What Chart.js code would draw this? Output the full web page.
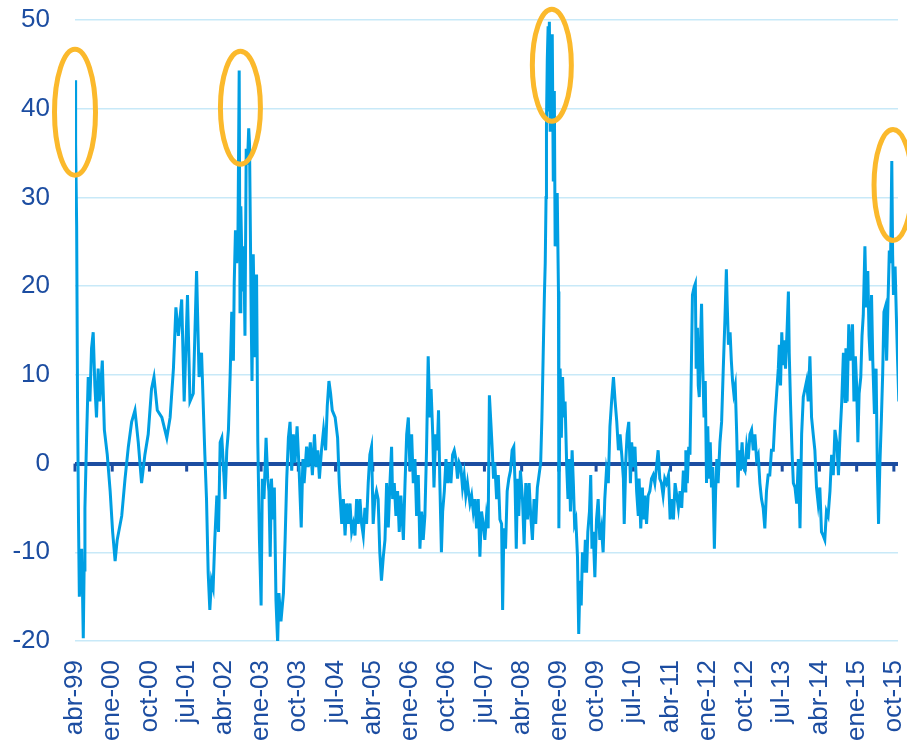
<!DOCTYPE html>
<html>
<head>
<meta charset="utf-8">
<script src="https://cdn.jsdelivr.net/npm/chart.js@4.4.1/dist/chart.umd.min.js"></script>
<style>
  body { margin: 0; background: #fff; }
</style>
</head>
<body>
<canvas id="chart" width="907" height="745"></canvas>
<script>
// x = months since abr-99, y = value
var tickLabels = ['abr-99', 'ene-00', 'oct-00', 'jul-01', 'abr-02', 'ene-03', 'oct-03', 'jul-04',
    'abr-05', 'ene-06', 'oct-06', 'jul-07', 'abr-08', 'ene-09', 'oct-09', 'jul-10', 'abr-11',
    'ene-12', 'oct-12', 'jul-13', 'abr-14', 'ene-15', 'oct-15'];

var months = [
    0, 0.1, 0.2, 0.4, 0.6, 0.85, 1.05, 1.3, 1.6, 1.8, 2.0, 2.2, 2.4, 2.8, 3.2, 3.6, 4.0, 4.4, 4.8, 5.2,
    5.6, 6.0, 6.6, 7.1, 7.8, 8.5, 9.1, 9.7, 10.2, 11.3, 12.1, 12.9, 13.7, 14.5, 15.3, 16.1, 16.9, 17.7,
    18.5, 19.1, 19.9, 21.0, 22.2, 23.0, 23.8, 24.4, 25.0, 25.8, 26.4, 27.2, 27.8, 28.6, 29.4, 30.0, 30.6,
    31.4, 31.8, 32.2, 32.6, 33.0, 33.4, 33.8, 34.3, 34.7, 35.1, 35.5, 35.9, 36.3, 36.7, 37.1, 37.5, 37.9,
    38.3, 38.5, 38.8, 39.1, 39.4, 39.7, 39.9, 40.1, 40.5, 40.8, 41.1, 41.4, 41.7, 42.0, 42.2, 42.6, 42.8,
    43.1, 43.5, 43.9, 44.2, 44.6, 45.0, 45.3, 45.7, 46.2, 46.6, 46.9, 47.2, 47.5, 47.9, 48.2, 48.6, 49.0,
    49.3, 49.8, 50.4, 50.8, 51.2, 51.6, 52.0, 52.4, 52.8, 53.2, 53.7, 54.2, 54.7, 55.1, 55.4, 56.0, 56.4,
    56.9, 57.4, 57.9, 58.3, 58.7, 59.1, 59.6, 60.1, 60.6, 61.0, 61.4, 61.8, 62.2, 62.9, 63.5, 63.9, 64.5,
    64.9, 65.3, 65.7, 66.1, 66.5, 66.9, 67.3, 67.7, 68.1, 68.5, 68.9, 69.3, 69.7, 70.1, 70.5, 70.9, 71.3,
    71.7, 72.1, 72.5, 72.9, 73.3, 73.7, 74.1, 74.55, 74.95, 75.35, 75.75, 76.15, 76.55, 76.8, 77.2, 77.6,
    78.0, 78.4, 78.8, 79.4, 79.8, 80.2, 80.6, 81.0, 81.4, 81.8, 82.2, 82.6, 83.0, 83.4, 83.8, 84.2, 84.6,
    85.0, 85.4, 85.8, 86.1, 86.5, 86.8, 87.2, 87.6, 87.9, 88.2, 88.6, 88.9, 89.3, 89.7, 90.1, 90.5, 90.9,
    91.3, 91.7, 92.1, 92.5, 92.9, 93.3, 93.7, 94.1, 94.5, 94.9, 95.5, 95.9, 96.3, 96.7,
    97.1, 97.5, 97.9, 98.3, 98.7, 99.1, 99.5, 99.9, 100.2, 100.6, 100.9, 101.2, 101.5, 101.95, 102.35,
    102.75, 103.15, 103.4, 103.7, 104.1, 104.5, 104.9, 105.3, 105.7, 106.1, 106.4, 106.7, 107.0, 107.3,
    107.7, 108.2, 108.6, 109.0, 109.4, 109.8, 110.2, 110.6, 111.0, 111.4, 111.8, 112.2, 112.6, 112.9,
    113.2, 113.5, 113.7, 113.9, 114.0, 114.2, 114.4, 114.5, 114.7, 114.9, 115.2, 115.4, 115.65, 115.9,
    116.1, 116.4, 116.6, 116.9, 117.0, 117.3, 117.6, 117.9, 118.2, 118.5, 118.9, 119.2, 119.5, 119.8,
    120.2, 120.5, 120.8, 121.1, 121.5, 121.8, 122.1, 122.4, 122.7, 123.1, 123.4, 123.7, 124.0, 124.4,
    124.7, 125.0, 125.3, 125.7, 126.1, 126.5, 126.9, 127.3, 127.7, 128.1, 128.5, 128.95, 129.35, 129.75,
    130.2, 130.6,
    131.0, 131.4, 131.8, 132.2, 132.6, 132.8, 133.2, 133.5, 133.9, 134.3, 134.6, 135.0, 135.4, 135.8,
    136.2, 136.4, 136.8, 137.2, 137.4, 137.8, 138.2, 138.6, 139.0, 139.4, 139.8, 140.2, 140.6, 141.0,
    141.4, 141.8, 142.2, 142.6, 143.0, 143.5, 143.9, 144.3, 144.7, 145.1, 145.5, 145.9, 146.3, 146.7,
    147.1, 147.5, 147.7, 148.05, 148.4, 148.7, 149.0, 149.3, 149.7, 150.0, 150.2, 150.5, 150.7, 150.95,
    151.2, 151.5, 151.75, 152.1, 152.4, 152.7, 153.0, 153.3, 153.6, 153.9, 154.2, 154.6, 154.9, 155.2,
    155.5, 155.95, 156.35, 156.75, 157.15, 157.5, 157.7, 158.0, 158.4, 158.7, 159.0, 159.3, 159.65,
    160.0, 160.3, 160.6, 160.9, 161.3, 161.6,
    162.0, 162.4, 162.8, 163.2, 163.6, 164.0, 164.4, 164.8, 165.2, 165.6, 166.0, 166.4, 166.8, 167.2,
    167.6, 168.0, 168.4, 168.85, 169.25, 169.65, 170.06, 170.3, 170.6, 170.9, 171.2, 171.5, 171.8,
    172.2, 172.5, 172.7, 173.0, 173.4, 173.7, 174.1, 174.5, 174.9, 175.3, 175.7, 176.1, 176.5, 176.9,
    177.3, 177.7, 178.1, 178.5, 178.9, 179.3, 179.7, 180.1, 180.5, 180.9, 181.3, 181.7, 182.1, 182.55,
    182.95, 183.35, 183.75, 184.2, 184.6, 185.0, 185.4, 185.8, 186.2, 186.4, 186.7, 187.1, 187.4, 187.7,
    188.0, 188.35, 188.7, 189.0, 189.3, 189.6, 190.0, 190.3, 190.6, 191.0, 191.3, 191.7, 192.0, 192.3,
    192.6, 192.9, 193.3, 193.7, 194.0, 194.3, 194.6, 194.96, 195.3, 195.6, 195.9, 196.25, 196.6, 196.9,
    197.2, 197.5, 197.7, 197.9, 198.3, 198.6, 198.9, 199.2, 199.4
];

var values = [
    43.2, 41, 36, 26.8, 8, -6.5, -15, -13, -9.6, -14, -19.7, -12, -5, 2.9, 9.75, 7, 13, 14.8, 8.8, 5.2,
    10.7, 7, 11.6, 3.8, 1, -3.1, -7.7, -11, -8.6, -5.9, -1.7, 1.9, 4.7, 6, 2.4, -2.2, 1, 3.3,
    8.4, 9.75, 6, 5.2, 2.9, 5.2, 10.7, 17.6, 14.4, 18.5, 7, 19, 7, 7.9, 21.7, 9.75, 12.5,
    1, -4, -12.3, -16.5, -13.2, -14, -8.6, -3.6, -7.7, 2.4, 2.9, -0.4, -4, 1.5, 3.8, 9.75, 17.1,
    11.6, 20.3, 26.3, 22.6, 25.4, 44.3, 17.1, 29, 19.4, 24.5, 14.4, 35.5, 33.7, 37.8, 36, 16.7, 9.3,
    23.6, 12, 21.3, 2.4, -8.6, -16, -1.7, -4, 2.9, -1.7, -3.1, -10.5, -1.7, -6.3, -2.7, -15.5, -20.2,
    -14.6, -17.8, -14.6, -8.6, -1.7, 2.9, 4.7, -0.8, 3.3, 0.1, 4.2, -0.8, -7.2, 0.5, -2.2, 1.9, -0.4,
    2.4, -1.3, 3.3, -0.4, 1.5, -1.7, 1.5, 3.8, 1.5, 6.5, 9.3, 7.9, 6, 5.2, 2.9, -2.2, -6.8,
    -4, -8.1, -4.5, -6.8, -4.5, -7.7, -6.8, -8.1, -4, -6.8, -4, -6.8, -8.1, -5, -6.8, -2.2, 1,
    1.9, -6.8, -4, -3.1, -4, -10, -13.2, -10.5, -8.6, -2.2, -7.2, -2.2, 1.9, -4, -2.2, -5.9,
    -3.1, -7.7, -3.6, -8.6, -2.2, 3.3, 5.2, -0.8, 3.3, -2.2, 0.5, -5.9, -1.3, -9.6, -5.4, -8.6, -5.9,
    1.5, 12.1, 5.2, 8.4, 3.3, -2.7, 3.3, 1.5, 6, -1.7, -10, -5.4, -3.1, 0.5, -2.2, 0.1, -2.2,
    1, 1.5, 0.5, -1.7, 0.1, -0.4, -2.7, -1.3, -3.6, -2.2, -4.5, -3.6, -5.4, -4,
    -7.3, -4, -10.5, -5.4, -6.8, -8.6, -5.9, -7.3, 7.7, 4.2, 1.5, -1.7, 0.1, -4, -1.3,
    -6.3, -6.8, -16.5, -7.3, -9.6, -3.1, -1.7, -0.8, 1.5, 1.9, -2.2, -9.6, -1.7, -5.9,
    -0.8, -4, -9.1, -2.2, -6.3, -2.2, -5.9, -8.6, -4, -6.8, -2.7, -1.3, 0.1, 5.2,
    12.1, 19, 22.6, 30, 38.3, 45.6, 49.3, 39.7, 49.8, 37.4, 44.7, 48.4, 31.8, 42,
    24.5, 25.4, 30.5, 19.4, -7.3, 10.7, 2.9, 9.75, 5.2, 7, -0.4, -4, 0.5, -5.4,
    1.5, -2.2, -6.8, -6.3, -10.5, -19.2, -13.2, -16, -10, -12.3, -8.6, -12.3, -7.7, -5.4,
    -1.3, -9.6, -7.7, -12.8, -6.3, -4, -8.6, -7.3, -10, -4, -0.8, -2.2, 4.2, 7,
    9.75, 7,
    4.7, 1.5, 3.3, 1, -1.7, -6.8, 0.5, 3.3, 4.7, -2.2, 2.4, -0.4, 1.9, -3.1,
    -5.9, -1.7, -7.3, -2.7, -6.3, -3.6, -6.8, -3.6, -3.1, -1.7, -1.3, -2.2, -0.4, 1.5,
    -1.7, -2.2, -3.6, -1.7, -2.2, -1.3, -6.3, -4, -6.3, -2.2, -3.6, -5, -3.1, -5,
    -0.8, -3.1, 1.5, -2.2, 1.9, 1, 9.75, 19, 19.9, 20.3, 10.7, 15.3, 8.8, 7.5,
    13, 18, 11.6, 5.2, 9.3, -2.2, 4.2, -1.7, 2.4, -2.7, -0.4, -9.6, -3.1, 0.5,
    -2.2, 2.4, 4.7, 10.7, 16.2, 21.9, 18, 13.4, 14.8, 11.6, 9.3, 7.9, 8.8,
    3.3, -2.7, 1.5, -0.8, 2.4, -0.4,
    -0.8, 1.9, 0.5, 3.3, 3.8, 1.5, 3.3, 0.5, 1, -2.2, -4, -5, -7.3, -3.1,
    -1.3, -1.3, 1.5, 1.5, 5.2, 7.9, 10.7, 13.4, 8.8, 14.8, 11.1, 13.9, 10.7,
    15.3, 19.4, 12.5, 7, 1, -2.2, -2.7, -4.5, 0.5, -7.3, 3.3, 7.5, 8.4, 9.3,
    7, 12.1, 5.2, 3.3, 1.5, -2.7, -4.5, -2.7, -7.7, -8.1, -8.6, -5.4, -5.9, -3.1,
    1, -1.3, 3.8, 2.4, -1.3, 3.3, 7, 12.5, 7, 13, 7, 15.7, 11.6, 13,
    15.7, 7, 12.1, 8.8, 2.4, 7.9, 9.75, 14.4, 16.7, 24.5, 17.6, 21.7, 14.4, 11.6,
    19, 11.6, 5.6, 10.7, -0.4, -6.8, -0.4, 4.7, 10.2, 17.1, 17.6, 11.6, 18.5, 24,
    22.6, 34.1, 23.6, 19, 22.2, 16.7, 11.6, 7, 9.3
];

// circled peaks (month, value)
var highlightMonths = [0, 40, 115.3, 197.8];
var highlightValues = [39.6, 40.1, 44.9, 31.4];

var lineColor = '#009FE3';
var axisColor = '#1C4DA1';
var gridColor = '#C8E9F8';
var circleColor = '#FBB92C';

var points = months.map(function (m, i) {
    return { x: m, y: values[i] };
});

// small tick marks hanging under the zero line
var zeroTicks = {
    id: 'zeroTicks',
    beforeDatasetsDraw: function (chart) {
        var ctx = chart.ctx;
        var xs = chart.scales.x;
        var y0 = chart.scales.y.getPixelForValue(0);
        ctx.save();
        ctx.fillStyle = axisColor;
        xs.ticks.forEach(function (t) {
            var px = xs.getPixelForValue(t.value);
            ctx.fillRect(px - 1.5, y0, 3, 8);
        });
        ctx.restore();
    }
};

var circles = {
    id: 'circles',
    afterDatasetsDraw: function (chart) {
        var ctx = chart.ctx;
        var sizes = [[20.5, 63], [20, 56.5], [19.5, 56], [19, 55.5]];
        ctx.save();
        ctx.strokeStyle = circleColor;
        ctx.lineWidth = 5;
        highlightMonths.forEach(function (m, i) {
            var px = chart.scales.x.getPixelForValue(m);
            var py = chart.scales.y.getPixelForValue(highlightValues[i]);
            ctx.beginPath();
            ctx.ellipse(px, py, sizes[i][0], sizes[i][1], 0, 0, Math.PI * 2);
            ctx.stroke();
        });
        ctx.restore();
    }
};

var font = { family: 'Liberation Sans, Arial, sans-serif', size: 26 };

var ctx = document.getElementById('chart').getContext('2d');
var chart = new Chart(ctx, {
    type: 'line',
    data: {
        datasets: [{
            data: points,
            borderColor: lineColor,
            borderWidth: 3,
            pointRadius: 0,
            tension: 0,
            fill: false
        }]
    },
    options: {
        responsive: false,
        animation: false,
        devicePixelRatio: 1,
        layout: { padding: { left: 12, top: 20, right: 9, bottom: 0 } },
        plugins: {
            legend: { display: false },
            tooltip: { enabled: false }
        },
        scales: {
            x: {
                type: 'linear',
                min: 0,
                max: 199,
                grid: { display: false, drawTicks: false },
                border: { display: false },
                afterFit: function (s) {
                    s.height = 104;
                    s.paddingLeft = 0;
                    s.paddingRight = 0;
                },
                ticks: {
                    stepSize: 9,
                    includeBounds: false,
                    autoSkip: false,
                    minRotation: 90,
                    maxRotation: 90,
                    padding: 19,
                    color: axisColor,
                    font: font,
                    callback: function (v) {
                        return tickLabels[Math.round(v / 9)];
                    }
                }
            },
            y: {
                min: -20,
                max: 50,
                grid: {
                    drawTicks: false,
                    color: function (c) { return c.tick && c.tick.value === 0 ? axisColor : gridColor; },
                    lineWidth: function (c) { return c.tick && c.tick.value === 0 ? 4 : 1.5; }
                },
                border: { display: false },
                afterFit: function (s) {
                    s.width = 63;
                    s.paddingTop = 0;
                    s.paddingBottom = 0;
                },
                ticks: {
                    stepSize: 10,
                    padding: 25,
                    color: axisColor,
                    font: font
                }
            }
        }
    },
    plugins: [zeroTicks, circles]
});
</script>
</body>
</html>
